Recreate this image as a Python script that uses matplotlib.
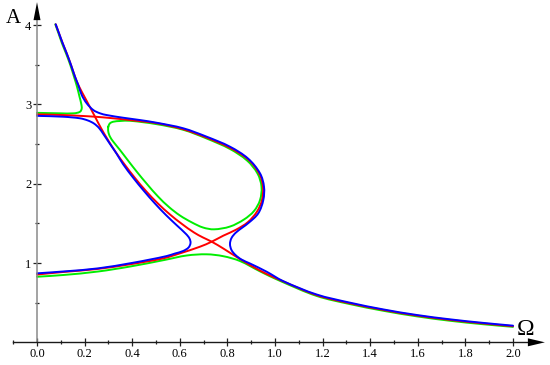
import matplotlib
matplotlib.use('Agg')
import math
import matplotlib.pyplot as plt
from matplotlib.path import Path
from matplotlib.patches import PathPatch

plt.rcParams['font.family'] = ['Liberation Serif', 'DejaVu Serif']

# ---------------- data (Omega, A) ----------------
top_om = [0.0786, 0.0924, 0.108, 0.1248, 0.1429, 0.1597, 0.1735]
top_A = [4.010, 3.897, 3.770, 3.644, 3.497, 3.349, 3.245]

# blue, branch 1: top -> over S1 -> upper loop -> nose -> right of S2 -> tail
blue1_om = top_om + [0.1878, 0.2088, 0.2366, 0.2647, 0.2929, 0.3626, 0.4328, 0.5029,
                     0.6147, 0.7130, 0.8109, 0.8866, 0.9370, 0.9538, 0.9508, 0.9298,
                     0.8908, 0.8361, 0.8172, 0.8109, 0.8172, 0.8340, 0.8592, 0.8950,
                     0.9651, 1.0336]
blue1_A = top_A + [3.119, 3.014, 2.929, 2.888, 2.866, 2.832, 2.803, 2.769,
                   2.699, 2.593, 2.467, 2.318, 2.131, 1.962, 1.794, 1.627,
                   1.511, 1.385, 1.315, 1.240, 1.164, 1.101, 1.044, 0.994,
                   0.890, 0.773]
blue_tail_om = [1.175, 1.315, 1.455, 1.595, 1.735, 1.875, 2.0]
blue_tail_A = [0.603, 0.500, 0.415, 0.345, 0.290, 0.245, 0.210]

# blue, branch 2: left upper -> below S1 -> diagonal -> left of S2 -> lower left
blue2_om = [0.0, 0.1105, 0.1807, 0.2143, 0.2395, 0.2605, 0.2786, 0.3067, 0.3340,
            0.3613, 0.4034, 0.4496, 0.4958, 0.5420, 0.5882, 0.6261, 0.6408, 0.6450,
            0.6366, 0.6134, 0.5798, 0.5450, 0.4748, 0.3971, 0.2576, 0.1176, 0.0]
blue2_A = [2.856, 2.845, 2.825, 2.797, 2.759, 2.703, 2.627, 2.501, 2.381,
           2.248, 2.078, 1.908, 1.750, 1.605, 1.473, 1.366, 1.309, 1.252,
           1.195, 1.151, 1.120, 1.088, 1.044, 1.000, 0.933, 0.895, 0.870]

# red, branch A: top -> S1 -> S2 -> tail
redA_om = top_om + [0.2080, 0.2437, 0.2689, 0.2983, 0.3319, 0.3697, 0.4118, 0.4580,
                    0.5084, 0.5588, 0.6092, 0.6597, 0.6975, 0.7340, 0.7828, 0.8529,
                    0.9370, 1.0210, 1.175, 1.315, 1.455, 1.595, 1.735, 1.875, 2.0]
redA_A = top_A + [3.049, 2.845, 2.702, 2.551, 2.393, 2.236, 2.072, 1.908,
                  1.750, 1.612, 1.492, 1.385, 1.322, 1.269, 1.183, 1.050,
                  0.905, 0.786, 0.595, 0.492, 0.408, 0.338, 0.283, 0.238, 0.203]

# red, branch B: left upper -> S1 -> loop -> nose -> S2 -> lower left
redB_om = [0.0, 0.1105, 0.1807, 0.2437, 0.3067, 0.3908, 0.5029, 0.6147, 0.7130,
           0.8109, 0.8866, 0.9349, 0.9496, 0.9454, 0.9244, 0.8866, 0.8361, 0.7828,
           0.7340, 0.6849, 0.6008, 0.5307, 0.3908, 0.2508, 0.1105, 0.0]
redB_A = [2.875, 2.866, 2.856, 2.845, 2.829, 2.803, 2.763, 2.687, 2.581,
          2.453, 2.308, 2.122, 1.958, 1.794, 1.649, 1.517, 1.420, 1.345,
          1.269, 1.206, 1.122, 1.059, 0.984, 0.924, 0.887, 0.855]

# green, branch 1: top -> turns left above S1
green1_om = [0.0769, 0.0903, 0.1050, 0.1218, 0.1399, 0.1555, 0.1681, 0.1786,
             0.1861, 0.1878, 0.1807, 0.1555, 0.0966, 0.0]
green1_A = [4.010, 3.897, 3.770, 3.644, 3.497, 3.349, 3.223, 3.097,
            3.005, 2.948, 2.908, 2.888, 2.888, 2.894]

# green, closed isola
green2_om = [0.2996, 0.3067, 0.3206, 0.3487, 0.3908, 0.5029, 0.6147, 0.7130, 0.8109,
             0.8824, 0.9265, 0.9433, 0.9370, 0.9118, 0.8697, 0.8109, 0.7437, 0.6975,
             0.6513, 0.6008, 0.5546, 0.5084, 0.4622, 0.4202, 0.3824, 0.3487, 0.3206,
             0.3067, 0.2996]
green2_A = [2.719, 2.762, 2.782, 2.791, 2.794, 2.751, 2.680, 2.570, 2.438,
            2.293, 2.129, 1.962, 1.794, 1.656, 1.549, 1.460, 1.425, 1.448,
            1.511, 1.599, 1.706, 1.839, 1.996, 2.148, 2.293, 2.425, 2.530,
            2.593, 2.656]

# green, branch 3: lower left -> hump -> tail
green3_om = [0.0, 0.1105, 0.2563, 0.3950, 0.5378, 0.6290, 0.7130, 0.7828, 0.8529,
             0.9370, 1.0210, 1.175, 1.315, 1.455, 1.595, 1.735, 1.875, 2.0]
green3_A = [0.827, 0.849, 0.893, 0.958, 1.040, 1.095, 1.110, 1.086, 1.025,
            0.895, 0.775, 0.585, 0.482, 0.398, 0.328, 0.272, 0.228, 0.195]

x_major = [0.0, 0.2, 0.4, 0.6, 0.8, 1.0, 1.2, 1.4, 1.6, 1.8, 2.0]
x_labels = ['0.0', '0.2', '0.4', '0.6', '0.8', '1.0', '1.2', '1.4', '1.6', '1.8', '2.0']
x_minor = [-0.1, 0.1, 0.3, 0.5, 0.7, 0.9, 1.1, 1.3, 1.5, 1.7, 1.9]
y_major = [1, 2, 3, 4]
y_labels = ['1', '2', '3', '4']
y_minor = [0.5, 1.5, 2.5, 3.5]

# ---------------- figure ----------------
W, H = 550, 365
fig = plt.figure(figsize=(W / 100, H / 100), dpi=100)
ax = fig.add_axes([0, 0, 1, 1])
xlo, xhi = -0.1555, 2.1555
ylo, yhi = -0.286, 4.317
ax.set_xlim(xlo, xhi)
ax.set_ylim(ylo, yhi)
px_x = (xhi - xlo) / W
px_y = (yhi - ylo) / H


def smooth_path(xs, ys, closed=False):
    """Smooth curve through the read points (tangent-based cubic Bezier)."""
    pts = [(x / px_x, y / px_y) for x, y in zip(xs, ys)]
    n = len(pts)

    def P(i):
        if closed:
            return pts[i % n]
        return pts[min(max(i, 0), n - 1)]

    def tangent(i):
        a, b = P(i - 1), P(i + 1)
        dx, dy = b[0] - a[0], b[1] - a[1]
        L = math.hypot(dx, dy) or 1.0
        return dx / L, dy / L

    verts = [pts[0]]
    codes = [Path.MOVETO]
    segs = n if closed else n - 1
    for i in range(segs):
        p1, p2 = P(i), P(i + 1)
        d = math.hypot(p2[0] - p1[0], p2[1] - p1[1]) / 3.0
        t1, t2 = tangent(i), tangent(i + 1)
        c1 = (p1[0] + t1[0] * d, p1[1] + t1[1] * d)
        c2 = (p2[0] - t2[0] * d, p2[1] - t2[1] * d)
        verts += [c1, c2, p2]
        codes += [Path.CURVE4] * 3
    verts = [(x * px_x, y * px_y) for x, y in verts]
    return Path(verts, codes)


for s in ['top', 'right']:
    ax.spines[s].set_visible(False)
ax.spines['left'].set_position(('data', 0))
ax.spines['bottom'].set_position(('data', 0))
ax.spines['left'].set_bounds(0, 4.15)
ax.spines['bottom'].set_bounds(-0.1, 2.09)
ax.spines['left'].set_color('#8a8a8a')
ax.spines['bottom'].set_color('#1a1a1a')
ax.spines['left'].set_linewidth(1.1)
ax.spines['bottom'].set_linewidth(1.0)

ax.set_xticks(x_major, x_labels)
ax.set_xticks(x_minor, minor=True)
ax.set_yticks(y_major, y_labels)
ax.set_yticks(y_minor, minor=True)
ax.tick_params(which='major', direction='inout', length=5.8, width=0.9,
               color='#222222', labelsize=9, pad=1.5)
ax.tick_params(which='minor', direction='inout', length=3.4, width=0.9,
               color='#222222')
ax.tick_params(axis='y', which='major', pad=1.2)

# arrow heads
tipx = 2.134
ax.fill([tipx, tipx - 17 * px_x, tipx - 17 * px_x],
        [0, 4 * px_y, -4 * px_y], color='black', zorder=5, clip_on=False, lw=0)
tipy = 4.29
ax.fill([0, 3.5 * px_x, -3.5 * px_x],
        [tipy, tipy - 18 * px_y, tipy - 18 * px_y], color='black', zorder=5,
        clip_on=False, lw=0)

ax.text(-0.098, 4.079, 'A', fontsize=15, ha='center', va='center')
ax.text(2.0538, 0.165, 'Ω', fontsize=17, ha='center', va='center')

lw = 1.4
GREEN, RED, BLUE = '#00ee00', '#ff0000', '#0000ff'
curves = [
    (green1_om, green1_A, GREEN, False),
    (green2_om, green2_A, GREEN, True),
    (green3_om, green3_A, GREEN, False),
    (redA_om, redA_A, RED, False),
    (redB_om, redB_A, RED, False),
    (blue1_om + blue_tail_om, blue1_A + blue_tail_A, BLUE, False),
    (blue2_om, blue2_A, BLUE, False),
]
for z, (xs, ys, col, closed) in enumerate(curves):
    ax.add_patch(PathPatch(smooth_path(xs, ys, closed), fill=False,
                           edgecolor=col, lw=lw, zorder=2 + z * 0.01,
                           capstyle='round', joinstyle='round'))

fig.savefig('out.png', dpi=100, facecolor='white')
